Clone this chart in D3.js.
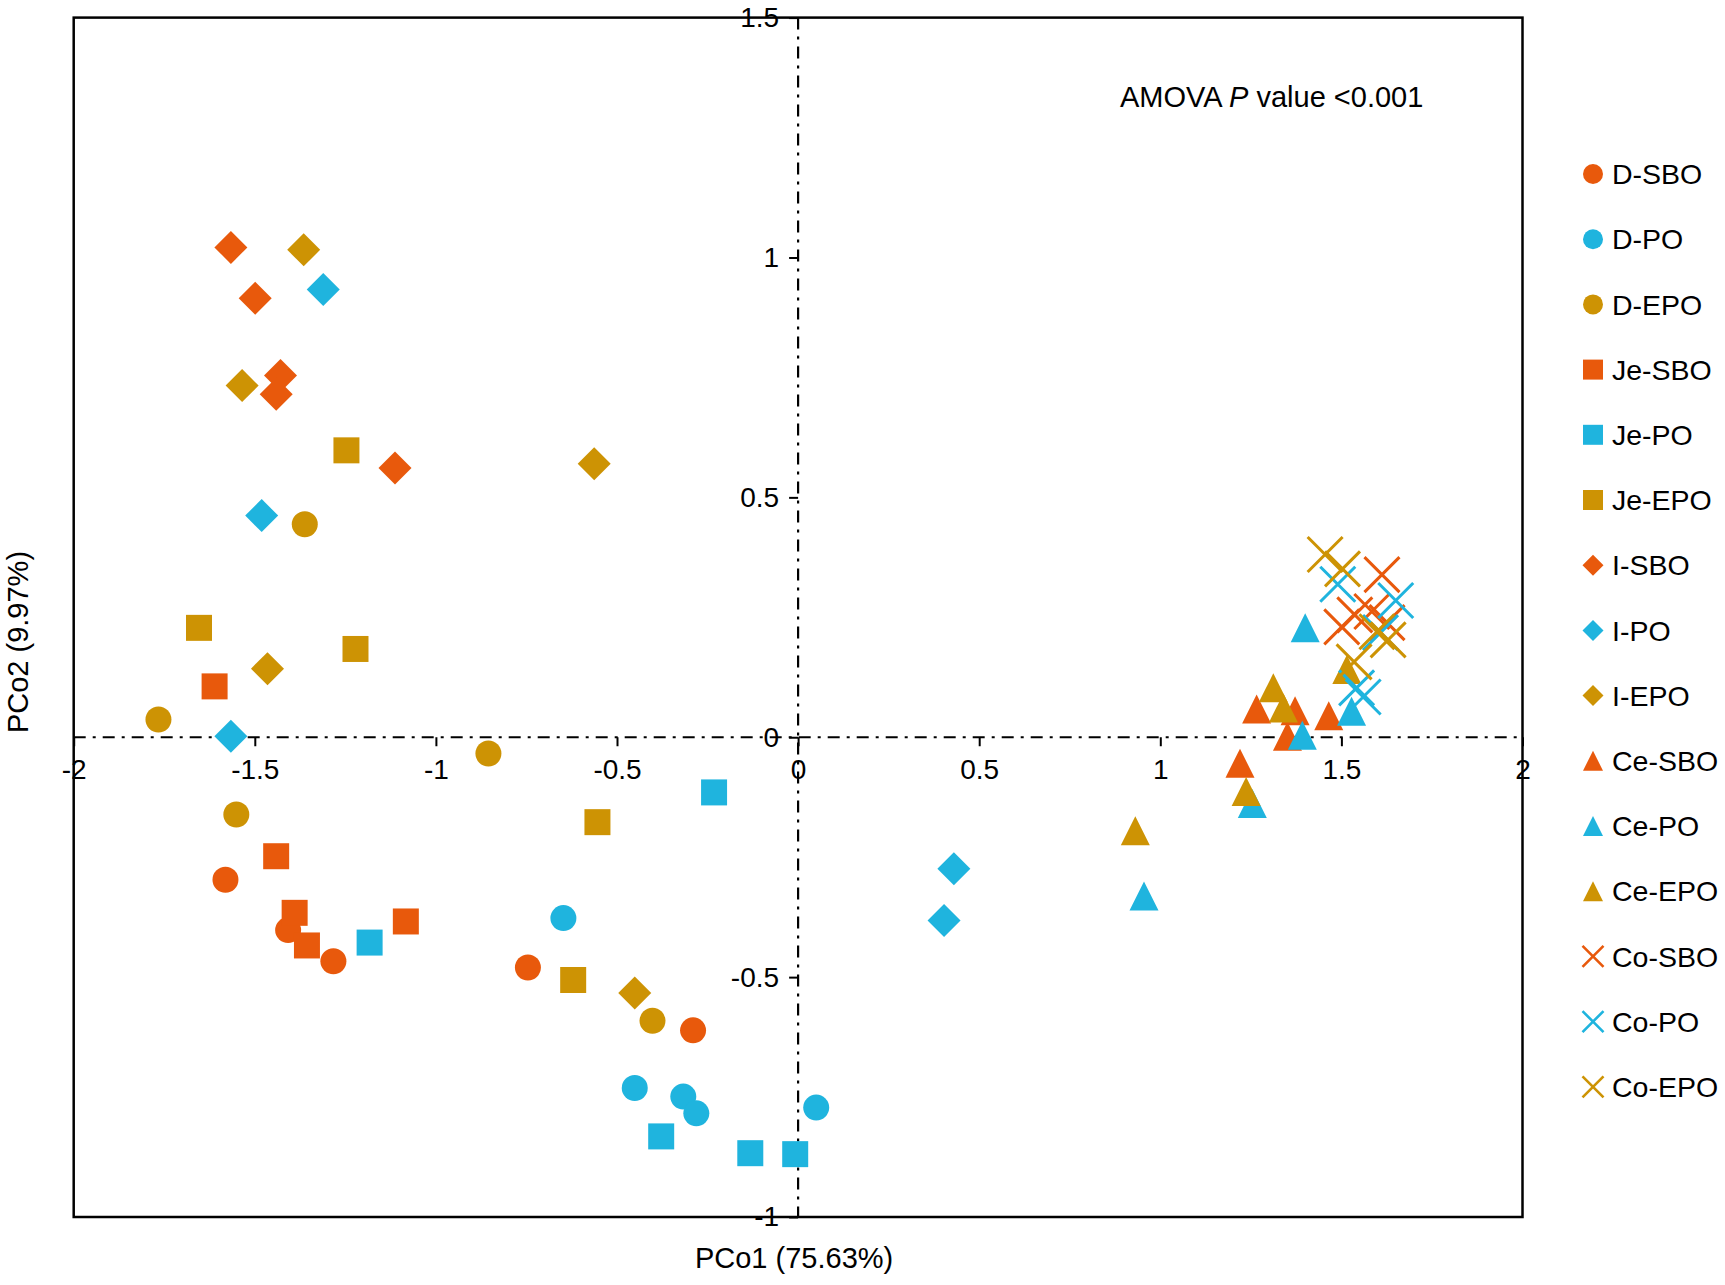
<!DOCTYPE html>
<html>
<head>
<meta charset="utf-8">
<script src="https://cdn.jsdelivr.net/npm/d3@7"></script>
<style>
    body { margin: 0; background: #fff; }
    text { font-family: "Liberation Sans", Arial, Helvetica, sans-serif; fill: #000; }
</style>
</head>
<body>
<div id="chart"></div>
<script>
// PCo1 / PCo2 scores, five samples per group
const D_SBO = [[-1.581, -0.297], [-1.408, -0.402], [-1.283, -0.467], [-0.746, -0.480], [-0.290, -0.611]]
const D_PO = [[-0.648, -0.377], [-0.451, -0.731], [-0.317, -0.749], [-0.281, -0.784], [0.050, -0.772]]
const D_EPO = [[-1.362, 0.444], [-1.766, 0.037], [-1.551, -0.161], [-0.855, -0.034], [-0.402, -0.591]]
const Je_SBO = [[-1.611, 0.106], [-1.441, -0.248], [-1.390, -0.366], [-1.356, -0.434], [-1.083, -0.384]]
const Je_PO = [[-0.232, -0.115], [-1.183, -0.428], [-0.378, -0.832], [-0.132, -0.867], [-0.008, -0.869]]
const Je_EPO = [[-1.247, 0.598], [-1.654, 0.228], [-1.222, 0.184], [-0.554, -0.177], [-0.621, -0.506]]
const I_SBO = [[-1.566, 1.021], [-1.499, 0.915], [-1.429, 0.754], [-1.441, 0.715], [-1.113, 0.561]]
const I_PO = [[-1.311, 0.933], [-1.481, 0.462], [-1.566, 0.002], [0.430, -0.274], [0.403, -0.382]]
const I_EPO = [[-1.365, 1.016], [-1.535, 0.733], [-1.465, 0.143], [-0.563, 0.570], [-0.451, -0.533]]
const Ce_SBO = [[1.266, 0.059], [1.372, 0.055], [1.465, 0.045], [1.351, 0.002], [1.220, -0.054]]
const Ce_PO = [[1.400, 0.228], [1.528, 0.054], [1.392, 0.004], [1.254, -0.138], [0.955, -0.331]]
const Ce_EPO = [[1.312, 0.103], [1.340, 0.061], [1.515, 0.141], [1.237, -0.113], [0.931, -0.195]]
const Co_SBO = [[1.612, 0.339], [1.501, 0.230], [1.537, 0.255], [1.626, 0.239], [1.584, 0.262]]
const Co_PO = [[1.490, 0.319], [1.650, 0.285], [1.608, 0.218], [1.542, 0.103], [1.560, 0.084]]
const Co_EPO = [[1.455, 0.381], [1.503, 0.351], [1.535, 0.157], [1.598, 0.220], [1.629, 0.203]]

const groupNames = ["D-SBO", "D-PO", "D-EPO", "Je-SBO", "Je-PO", "Je-EPO", "I-SBO", "I-PO", "I-EPO",
    "Ce-SBO", "Ce-PO", "Ce-EPO", "Co-SBO", "Co-PO", "Co-EPO"]
const groupValues = [D_SBO, D_PO, D_EPO, Je_SBO, Je_PO, Je_EPO, I_SBO, I_PO, I_EPO,
    Ce_SBO, Ce_PO, Ce_EPO, Co_SBO, Co_PO, Co_EPO]

const xTicks = [-2, -1.5, -1, -0.5, 0, 0.5, 1, 1.5, 2]
const xTickLabels = ["-2", "-1.5", "-1", "-0.5", "0", "0.5", "1", "1.5", "2"]
const yTicks = [-1, -0.5, 0, 0.5, 1, 1.5]
const yTickLabels = ["-1", "-0.5", "0", "0.5", "1", "1.5"]

const colors = { SBO: "#e8590c", PO: "#1fb4de", EPO: "#cd9304" }

// custom marker shapes, size = width in px
const shapes = {
    D: { draw(ctx, s) { ctx.moveTo(s / 2, 0); ctx.arc(0, 0, s / 2, 0, 2 * Math.PI) } },
    Je: { draw(ctx, s) { ctx.rect(-s / 2, -s / 2, s, s) } },
    I: { draw(ctx, s) { const h = s / 2; ctx.moveTo(0, -h); ctx.lineTo(h, 0); ctx.lineTo(0, h); ctx.lineTo(-h, 0); ctx.closePath() } },
    Ce: { draw(ctx, s) { const h = s / 2; ctx.moveTo(0, -h); ctx.lineTo(h, h); ctx.lineTo(-h, h); ctx.closePath() } },
    Co: { draw(ctx, s) { const h = s / 2; ctx.moveTo(-h, -h); ctx.lineTo(h, h); ctx.moveTo(-h, h); ctx.lineTo(h, -h) } }
}
const plotSize = { D: 26, Je: 26, I: 33, Ce: 29, Co: 35 }
const legendSize = { D: 20, Je: 20, I: 21, Ce: 20, Co: 21 }

const groups = groupNames.map((name, i) => {
    const [site, oil] = name.split("-")
    return { name: name, site: site, color: colors[oil], values: groupValues[i] }
})

const W = 1725, H = 1285
const margin = { left: 73.7, right: 202.5, top: 17.6, bottom: 68 }

const svg = d3.select("#chart").append("svg")
    .attr("width", W)
    .attr("height", H)

const x = d3.scaleLinear().domain([-2, 2]).range([margin.left, W - margin.right])
const y = d3.scaleLinear().domain([-1, 1.5]).range([H - margin.bottom, margin.top])

//Frame
svg.append("rect")
    .attr("x", x(-2))
    .attr("y", y(1.5))
    .attr("width", x(2) - x(-2))
    .attr("height", y(-1) - y(1.5))
    .attr("fill", "none")
    .attr("stroke", "#000")
    .attr("stroke-width", 2.5)

//Zero lines (dash-dot)
svg.append("line")
    .attr("x1", x(-2)).attr("x2", x(2))
    .attr("y1", y(0)).attr("y2", y(0))
    .attr("stroke", "#000").attr("stroke-width", 2.2)
    .attr("stroke-dasharray", "12,7,3,7")
svg.append("line")
    .attr("x1", x(0)).attr("x2", x(0))
    .attr("y1", y(1.5)).attr("y2", y(-1))
    .attr("stroke", "#000").attr("stroke-width", 2.2)
    .attr("stroke-dasharray", "12,7,3,7")

//Axes on the zero lines
svg.append("g")
    .attr("transform", `translate(0,${y(0)})`)
    .call(d3.axisBottom(x).tickValues(xTicks).tickSize(9).tickPadding(13)
        .tickFormat((d, i) => xTickLabels[i]))
svg.append("g")
    .attr("transform", `translate(${x(0)},0)`)
    .call(d3.axisLeft(y).tickValues(yTicks).tickSize(9).tickPadding(10)
        .tickFormat((d, i) => yTickLabels[i]))
svg.selectAll(".domain").remove()
svg.selectAll(".tick line").attr("stroke", "#000").attr("stroke-width", 2)
svg.selectAll(".tick text")
    .attr("font-family", "Liberation Sans, Arial, sans-serif")
    .attr("font-size", 28)
    .attr("fill", "#000")

//Points
groups.forEach(function (g) {
    const isCross = g.site === "Co"
    svg.append("g")
        .selectAll("path")
        .data(g.values)
        .enter()
        .append("path")
        .attr("transform", (d) => `translate(${x(d[0])},${y(d[1])})`)
        .attr("d", d3.symbol().type(shapes[g.site]).size(plotSize[g.site]))
        .attr("fill", isCross ? "none" : g.color)
        .attr("stroke", isCross ? g.color : "none")
        .attr("stroke-width", isCross ? 3 : 0)
})

//Annotation
const note = svg.append("text")
    .attr("x", 1120)
    .attr("y", 107)
    .attr("font-size", 29)
note.append("tspan").text("AMOVA ")
note.append("tspan").attr("font-style", "italic").text("P")
note.append("tspan").text(" value <0.001")

//Axis titles
svg.append("text")
    .attr("x", x(0) - 4)
    .attr("y", 1268)
    .attr("text-anchor", "middle")
    .attr("font-size", 29)
    .text("PCo1 (75.63%)")
svg.append("text")
    .attr("transform", "translate(28,642) rotate(-90)")
    .attr("text-anchor", "middle")
    .attr("font-size", 29)
    .text("PCo2 (9.97%)")

//Legend
const legendItem = svg.append("g")
    .selectAll("g")
    .data(groups)
    .enter()
    .append("g")
    .attr("transform", (d, i) => `translate(1593,${174 + i * 65.2})`)
legendItem.append("path")
    .attr("d", (d) => d3.symbol().type(shapes[d.site]).size(legendSize[d.site])())
    .attr("fill", (d) => d.site === "Co" ? "none" : d.color)
    .attr("stroke", (d) => d.site === "Co" ? d.color : "none")
    .attr("stroke-width", (d) => d.site === "Co" ? 2.6 : 0)
legendItem.append("text")
    .attr("x", 19)
    .attr("dy", "0.36em")
    .attr("font-size", 28.5)
    .text((d) => d.name)
</script>
</body>
</html>
